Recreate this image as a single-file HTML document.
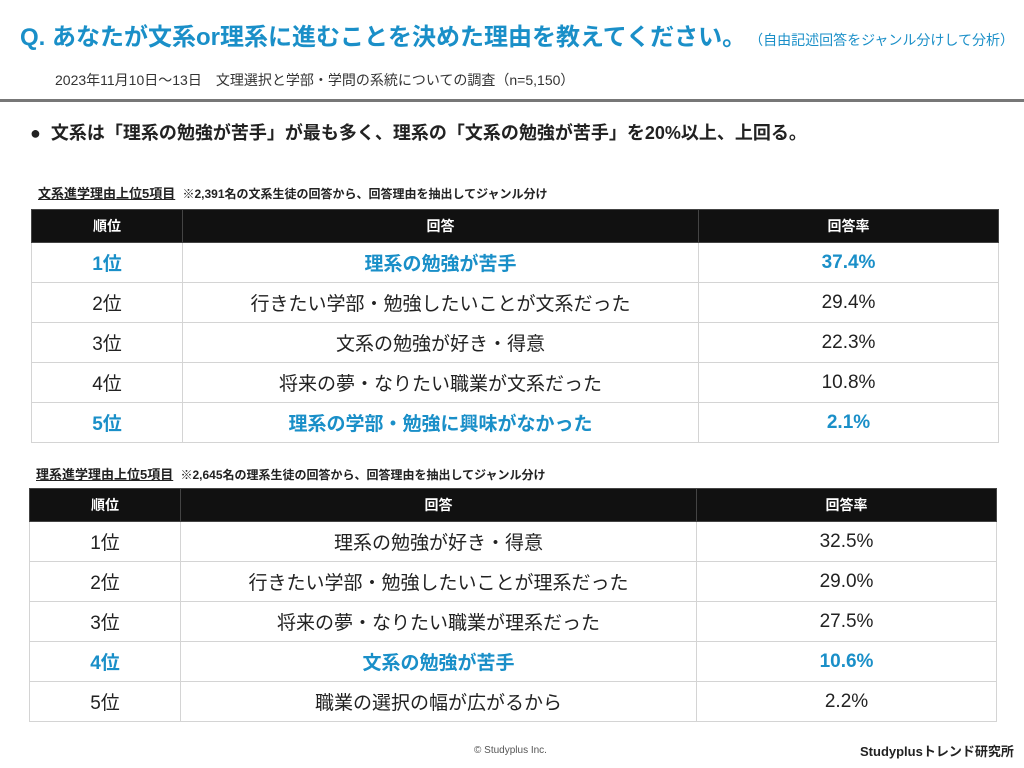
<!DOCTYPE html>
<html><head><meta charset="utf-8"><style>
body{margin:0;width:1024px;height:768px;background:#fff;font-family:"Liberation Sans","Noto Sans CJK JP",sans-serif;position:relative;overflow:hidden;color:#222}
.a{position:absolute;white-space:nowrap}
table{position:absolute;border-collapse:collapse;table-layout:fixed}
td,th{text-align:center;padding:0;border:1px solid #d4d4d4}
th{background:#111;color:#fff;font-size:14px;font-weight:bold;height:32px;border-color:#444}
td{height:39px;font-size:19px}
tr.hl td{color:#1a8fc8;font-weight:bold}
</style></head><body>
<div class="a" style="left:20px;top:17px;font-size:24px;font-weight:bold;color:#1a8fc8">Q. あなたが文系or理系に進むことを決めた理由を教えてください。<span style="font-size:14px;font-weight:normal;margin-left:10px">（自由記述回答をジャンル分けして分析）</span></div>
<div class="a" style="left:55px;top:70px;font-size:14px;color:#333">2023年11月10日～13日　文理選択と学部・学問の系統についての調査（n=5,150）</div>
<div class="a" style="left:0;top:99px;width:1024px;height:3px;background:#777"></div>
<div class="a" style="left:30px;top:119px;font-size:18px;font-weight:bold">●&nbsp;&nbsp;文系は「理系の勉強が苦手」が最も多く、理系の「文系の勉強が苦手」を20%以上、上回る。</div>
<div class="a" style="left:38px;top:183px;font-size:13px;font-weight:bold"><u>文系進学理由上位5項目</u>&nbsp;&nbsp;<span style="font-size:12px">※2,391名の文系生徒の回答から、回答理由を抽出してジャンル分け</span></div>
<table style="left:31px;top:209px;width:967px">
<colgroup><col style="width:151px"><col style="width:516px"><col style="width:300px"></colgroup>
<tr><th>順位</th><th>回答</th><th>回答率</th></tr>
<tr class="hl"><td>1位</td><td>理系の勉強が苦手</td><td>37.4%</td></tr>
<tr><td>2位</td><td>行きたい学部・勉強したいことが文系だった</td><td>29.4%</td></tr>
<tr><td>3位</td><td>文系の勉強が好き・得意</td><td>22.3%</td></tr>
<tr><td>4位</td><td>将来の夢・なりたい職業が文系だった</td><td>10.8%</td></tr>
<tr class="hl"><td>5位</td><td>理系の学部・勉強に興味がなかった</td><td>2.1%</td></tr>
</table>
<div class="a" style="left:36px;top:464px;font-size:13px;font-weight:bold"><u>理系進学理由上位5項目</u>&nbsp;&nbsp;<span style="font-size:12px">※2,645名の理系生徒の回答から、回答理由を抽出してジャンル分け</span></div>
<table style="left:29px;top:488px;width:967px">
<colgroup><col style="width:151px"><col style="width:516px"><col style="width:300px"></colgroup>
<tr><th>順位</th><th>回答</th><th>回答率</th></tr>
<tr><td>1位</td><td>理系の勉強が好き・得意</td><td>32.5%</td></tr>
<tr><td>2位</td><td>行きたい学部・勉強したいことが理系だった</td><td>29.0%</td></tr>
<tr><td>3位</td><td>将来の夢・なりたい職業が理系だった</td><td>27.5%</td></tr>
<tr class="hl"><td>4位</td><td>文系の勉強が苦手</td><td>10.6%</td></tr>
<tr><td>5位</td><td>職業の選択の幅が広がるから</td><td>2.2%</td></tr>
</table>
<div class="a" style="left:474px;top:745px;font-size:10px;color:#555">© Studyplus Inc.</div>
<div class="a" style="left:860px;top:741px;font-size:13px;font-weight:bold">Studyplusトレンド研究所</div>
</body></html>
